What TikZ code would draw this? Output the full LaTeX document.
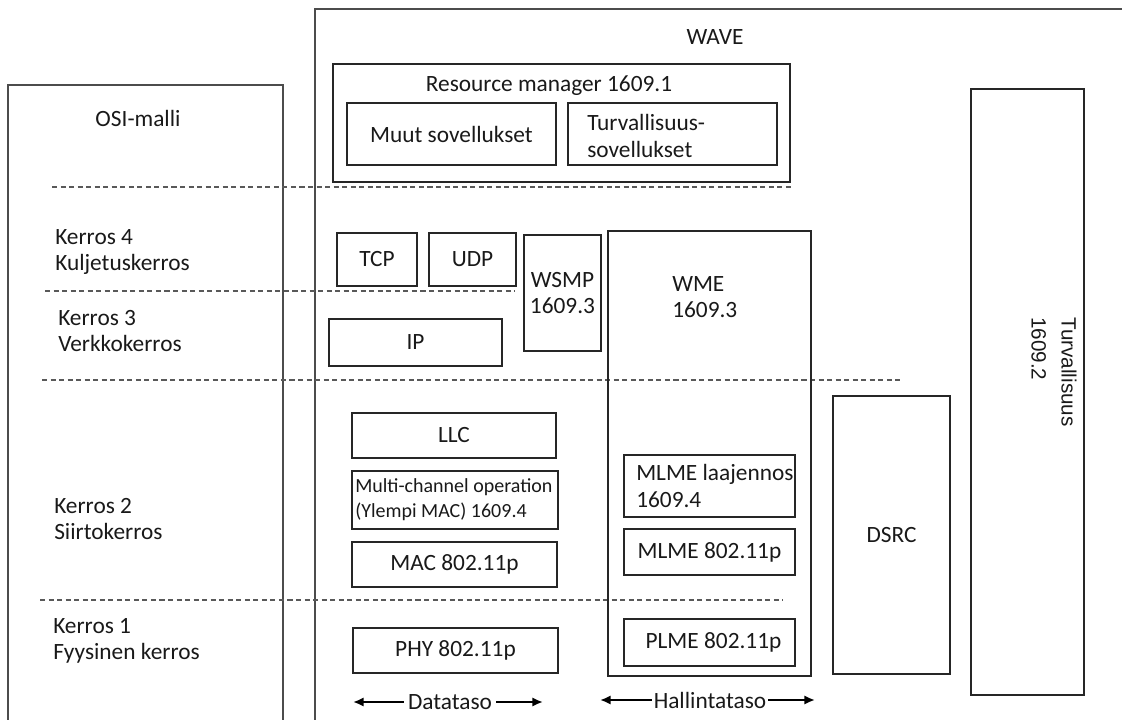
\documentclass[tikz,border=0pt]{standalone}
\usepackage{fontspec}
\setmainfont{Carlito}
\newfontfamily\arialfont{Liberation Sans}
\usetikzlibrary{arrows.meta}

\begin{document}
\begin{tikzpicture}[x=0.75pt, y=-0.75pt,
    every node/.style={font=\fontsize{17.5}{20}\selectfont, text=black!90},
    blk/.style={draw=black!85, line width=1.1pt, inner sep=0pt},
    sz/.style 2 args={minimum width=#1*0.75pt, minimum height=#2*0.75pt},
    sep/.style={draw=black!65, line width=1pt, dash pattern=on 3.8pt off 2.6pt},
    txt/.style={anchor=west, align=left, inner sep=0pt},
    dir/.style={line width=1.7pt, -{Latex[length=8pt,width=7pt]}}]
  \useasboundingbox (0,0) rectangle (1122,720);

  % outer frames, open at the bottom
  \draw [black!70, line width=1.1pt] (8,720) |- (283,85) -- (283,720);
  \draw [black!70, line width=1.1pt] (315,720) |- (1122,9);
  \node (osi) at (138,118) {OSI-malli};
  \node (wave) at (715,37) {WAVE};

  % layer borders
  \draw [sep] (52,187) -- (793,187);
  \draw [sep] (45,291) -- (515,291);
  \draw [sep] (42,380) -- (902,380);
  \draw [sep] (40,600) -- (783,600);

  \node [txt] (k4) at (55,252) {Kerros 4\\Kuljetuskerros};
  \node [txt] (k3) at (58,331) {Kerros 3\\Verkkokerros};
  \node [txt] (k2) at (54,519) {Kerros 2\\Siirtokerros};
  \node [txt] (k1) at (53,641) {Kerros 1\\Fyysinen kerros};

  % applications
  \node [blk, sz={457}{118}] (resman) at (561.5,123) {};
  \node (resmantxt) at (549,86) {Resource manager 1609.1};
  \node [blk, sz={209}{62}] (muut) at (451.5,134) {Muut sovellukset};
  \node [blk, sz={209}{62}] (turvsov) at (672.5,134) {};
  \node [txt] (turvsovtxt) at (587,136) {Turvallisuus-\\sovellukset};

  % transport and network
  \node [blk, sz={80}{53}] (tcp) at (377,259.5) {TCP};
  \node [blk, sz={87}{53}] (udp) at (472.5,259.5) {UDP};
  \node [blk, sz={77}{116}, align=center] (wsmp) at (562.5,293) {WSMP\\1609.3};
  \node [blk, sz={173}{47}] (ip) at (415.5,342.5) {IP};

  % data plane
  \node [blk, sz={204}{45}] (llc) at (454,435.5) {LLC};
  \node [blk, sz={206}{58}] (mco) at (455,500) {};
  \node [txt, font=\fontsize{15}{18.75}\selectfont] (mcotxt) at (355,500)
    {Multi-channel operation\\(Ylempi MAC) 1609.4};
  \node [blk, sz={205}{45}] (mac) at (454.5,564.5) {MAC 802.11p};
  \node [blk, sz={205}{45}] (phy) at (455.5,650.5) {PHY 802.11p};

  % management plane
  \node [blk, sz={203}{445}] (wme) at (709.5,453.5) {};
  \node [txt] (wmetxt) at (672,297) {WME\\1609.3};
  \node [blk, sz={171}{62}] (mlmeext) at (709.5,486) {};
  \node [txt] (mlmeexttxt) at (636,486) {MLME laajennos\\1609.4};
  \node [blk, sz={171}{46}] (mlme) at (709.5,552) {MLME 802.11p};
  \node [blk, sz={171}{47}] (plme) at (709.5,642.5) {\hspace{6pt}PLME 802.11p};

  \node [blk, sz={117}{278}] (dsrc) at (891.5,535) {DSRC};
  \node [blk, sz={113}{606}] (turv) at (1027.5,392) {};
  \node [rotate=-90, align=left, font=\arialfont\fontsize{15.5}{22.5}\selectfont]
    (turvtxt) at (1054,372) {Turvallisuus\\1609.2};

  % plane arrows
  \node [inner sep=3pt] (data) at (450,702) {Datataso};
  \coordinate (dataL) at (353,702);
  \coordinate (dataR) at (543,702);
  \draw [dir] (data.west) -- (dataL);
  \draw [dir] (data.east) -- (dataR);

  \node [inner sep=1.5pt] (hall) at (710,700) {Hallintataso};
  \coordinate (hallL) at (600,700);
  \coordinate (hallR) at (815,700);
  \draw [dir] (hall.west) -- (hallL);
  \draw [dir] (hall.east) -- (hallR);
\end{tikzpicture}
\end{document}
